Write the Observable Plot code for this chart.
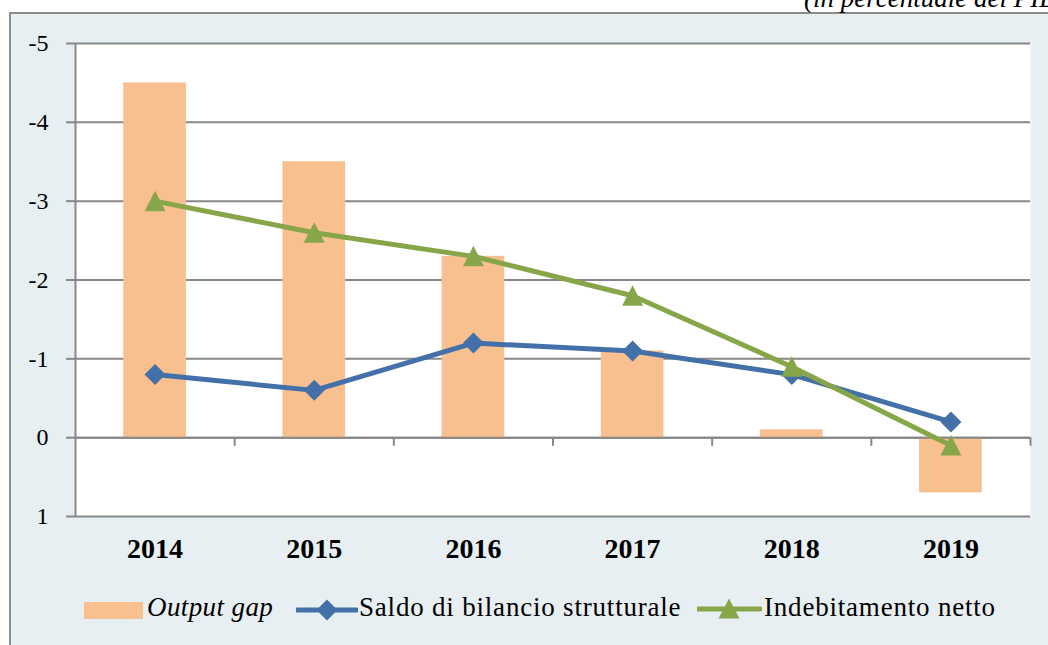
<!DOCTYPE html>
<html>
<head>
<meta charset="utf-8">
<script src="https://cdn.jsdelivr.net/npm/d3@7"></script>
<script src="https://cdn.jsdelivr.net/npm/@observablehq/plot@0.6"></script>
<style>
  html, body { margin: 0; padding: 0; background: #fff; overflow: hidden; width: 1048px; height: 645px; }
  #frame { position: absolute; left: 9px; top: 12px; width: 1045px; height: 640px; background: #e8eff2;
           border-left: 2px solid #8c8c8c; border-top: 2px solid #8c8c8c; }
  #chart { position: absolute; left: 0; top: 0; }
  #title { position: absolute; left: 804px; top: -15px; font: italic 27px "Liberation Serif", serif; line-height: 26px; letter-spacing: 0px; white-space: nowrap; color: #000; }
  .lg { position: absolute; font: 27px "Liberation Serif", serif; line-height: 27px; white-space: nowrap; color: #000; letter-spacing: 0.8px; }
  .key { position: absolute; }
</style>
</head>
<body>
<div id="frame"></div>
<div id="title"></div>
<div id="chart"></div>
<div id="legend"></div>
<script>
// ---- data ----
const years = [2014, 2015, 2016, 2017, 2018, 2019];
const outputGap = [-4.5, -3.5, -2.3, -1.1, -0.1, 0.7];
const saldoStrutturale = [-0.8, -0.6, -1.2, -1.1, -0.8, -0.2];
const indebitamentoNetto = [-3.0, -2.6, -2.3, -1.8, -0.9, 0.1];
const yTicks = [-5, -4, -3, -2, -1, 0, 1];
const seriesNames = ["Output gap", "Saldo di bilancio strutturale", "Indebitamento netto"];
const titleText = "(in percentuale del PIL)";

// ---- styles ----
const colGap = "#f9c08f";
const colBlue = "#4370a8";
const colGreen = "#87a64a";
const colAxis = "#878787";

const rows = years.map((year, i) => ({
  year, gap: outputGap[i], saldo: saldoStrutturale[i], indeb: indebitamentoNetto[i]
}));
const boundaries = [years[0] - 0.5, ...years.map(y => y + 0.5)];

const diamondSym = {
  draw(ctx, size) {
    const r = Math.sqrt(size / Math.PI);
    ctx.moveTo(0, -r); ctx.lineTo(r, 0); ctx.lineTo(0, r); ctx.lineTo(-r, 0); ctx.closePath();
  }
};
const triangleSym = {
  draw(ctx, size) {
    const r = Math.sqrt(size / Math.PI);
    ctx.moveTo(0, -r); ctx.lineTo(r, r * 0.95); ctx.lineTo(-r, r * 0.95); ctx.closePath();
  }
};

document.getElementById("title").textContent = titleText;

const chart = Plot.plot({
  width: 1048,
  height: 645,
  marginLeft: 75,
  marginRight: 18,
  marginTop: 43,
  marginBottom: 129,
  style: { background: "transparent", fontFamily: '"Liberation Serif", "Times New Roman", serif', color: "#000" },
  x: { type: "linear", domain: [years[0] - 0.5, years[years.length - 1] + 0.5], label: null },
  y: { domain: [yTicks[0], yTicks[yTicks.length - 1]], reverse: true, label: null },
  marks: [
    Plot.frame({ fill: "white", stroke: null }),
    Plot.ruleY(yTicks, { stroke: colAxis, strokeWidth: 2 }),
    Plot.rectY(rows, { x1: d => d.year - 0.197, x2: d => d.year + 0.197, y: "gap", fill: colGap }),
    Plot.ruleY([0], { stroke: colAxis, strokeWidth: 2 }),
    Plot.ruleX([boundaries[0]], { stroke: colAxis, strokeWidth: 2 }),
    Plot.ruleX(boundaries.slice(1), { y1: 0, y2: 0.11, stroke: colAxis, strokeWidth: 2 }),
    Plot.line(rows, { x: "year", y: "saldo", stroke: colBlue, strokeWidth: 5 }),
    Plot.dot(rows, { x: "year", y: "saldo", symbol: diamondSym, r: 10.5, fill: colBlue, stroke: null }),
    Plot.line(rows, { x: "year", y: "indeb", stroke: colGreen, strokeWidth: 5 }),
    Plot.dot(rows, { x: "year", y: "indeb", symbol: triangleSym, r: 10.5, fill: colGreen, stroke: null }),
    Plot.axisY({ ticks: yTicks, tickSize: 9, tickPadding: 18, fontSize: 24, tickFormat: d => String(d),
                 stroke: colAxis, strokeWidth: 2, fill: "#000", label: null }),
    Plot.axisX({ ticks: years, tickSize: 0, tickPadding: 22, fontSize: 28, fontWeight: "bold",
                 tickFormat: d => String(d), fill: "#000", label: null })
  ]
});
document.getElementById("chart").appendChild(chart);

// ---- legend ----
const legend = document.getElementById("legend");
legend.innerHTML = `
  <div class="key" style="left:84px;top:602px;width:59px;height:17px;background:${colGap}"></div>
  <div class="lg" style="left:147px;top:594px;font-style:italic;letter-spacing:0.4px">${seriesNames[0]}</div>
  <svg class="key" style="left:296px;top:598px" width="62" height="24">
    <line x1="1" y1="12" x2="61" y2="12" stroke="${colBlue}" stroke-width="5" stroke-linecap="round"/>
    <path d="M31,1.5L41.5,12L31,22.5L20.5,12Z" fill="${colBlue}"/>
  </svg>
  <div class="lg" style="left:359px;top:594px">${seriesNames[1]}</div>
  <svg class="key" style="left:697px;top:597px" width="65" height="24">
    <line x1="1" y1="12" x2="63" y2="12" stroke="${colGreen}" stroke-width="5" stroke-linecap="round"/>
    <path d="M32,1.5L42.5,21.5L21.5,21.5Z" fill="${colGreen}"/>
  </svg>
  <div class="lg" style="left:764px;top:594px">${seriesNames[2]}</div>
`;
</script>
</body>
</html>
